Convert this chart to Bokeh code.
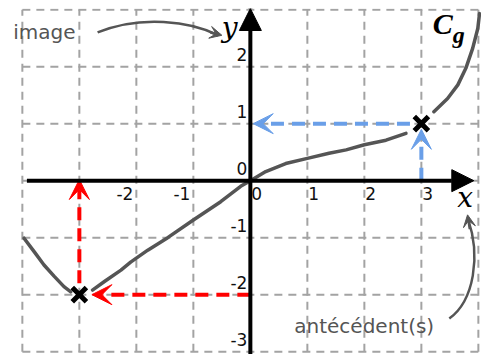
from bokeh.plotting import figure
from bokeh.models import Range1d, ColumnDataSource, Arrow, NormalHead, VeeHead, Label
from bokeh.core.properties import value
from bokeh.embed import file_html
from bokeh.resources import INLINE

# ---- data ----
grid_x = [-4, -3, -2, -1, 0, 1, 2, 3, 4]
grid_y = [-3, -2, -1, 0, 1, 2, 3]

xtick_neg = [-2, -1]
xtick_neg_labels = ["-2", "-1"]
xtick_pos = [0, 1, 2, 3]
xtick_pos_labels = ["0", "1", "2", "3"]
ytick = [2, 1, 0, -1, -2, -3]
ytick_labels = ["2", "1", "0", "-1", "-2", "-3"]

# curve C_g, split into pieces around the two marked points
curve_left_x = [-3.97, -3.79, -3.62, -3.44, -3.27, -3.15]
curve_left_y = [-1.01, -1.25, -1.48, -1.68, -1.86, -1.95]
curve_mid_x = [-2.77, -2.56, -2.27, -2.10, -1.80, -1.45, -1.00, -0.52, -0.17, 0.0,
               0.27, 0.62, 1.00, 1.38, 1.68, 2.00, 2.38, 2.73]
curve_mid_y = [-1.92, -1.77, -1.57, -1.43, -1.22, -1.00, -0.69, -0.37, -0.10, 0.0,
               0.16, 0.30, 0.39, 0.48, 0.54, 0.63, 0.71, 0.83]
curve_right_x = [3.22, 3.46, 3.64, 3.78, 3.90, 3.99, 4.02]
curve_right_y = [1.21, 1.44, 1.68, 1.97, 2.32, 2.67, 2.93]

# marked points: antecedent of -2, and image of 3
pt_x = [-3, 3]
pt_y = [-2, 1]

GRAY = "#555555"
RED = "#ff0000"
BLUE = "#6a9fe8"

p = figure(width=481, height=354,
           x_range=Range1d(-4.243, 4.055), y_range=Range1d(-3.05, 3.02),
           x_axis_type=None, y_axis_type=None,
           output_backend="svg", toolbar_location=None,
           min_border_left=8, min_border_top=8, min_border_right=0, min_border_bottom=0,
           outline_line_color=None)
p.grid.visible = False

# dashed grid
vsrc = ColumnDataSource(dict(x=grid_x, y0=[grid_y[0]] * len(grid_x), y1=[grid_y[-1]] * len(grid_x)))
hsrc = ColumnDataSource(dict(y=grid_y, x0=[grid_x[0]] * len(grid_y), x1=[grid_x[-1]] * len(grid_y)))
p.segment(x0="x", y0="y0", x1="x", y1="y1", source=vsrc, line_color="#a3a3a3",
          line_width=2, line_dash="8 6")
p.segment(x0="x0", y0="y", x1="x1", y1="y", source=hsrc, line_color="#a3a3a3",
          line_width=2, line_dash="8 6")

# curve
p.multi_line(xs=[curve_left_x, curve_mid_x, curve_right_x],
             ys=[curve_left_y, curve_mid_y, curve_right_y],
             line_color=GRAY, line_width=3.5, line_cap="round", line_join="round")

# red arrows (antecedent reading)
ax, ay = pt_x[0], pt_y[0]
p.add_layout(Arrow(end=VeeHead(size=20, fill_color=RED, line_color=RED, line_width=1),
                   x_start=0, y_start=ay, x_end=ax + 0.22, y_end=ay,
                   line_color=RED, line_width=4, line_dash="13 8"))
p.add_layout(Arrow(end=VeeHead(size=20, fill_color=RED, line_color=RED, line_width=1),
                   x_start=ax, y_start=ay + 0.2, x_end=ax, y_end=0.02,
                   line_color=RED, line_width=4, line_dash="13 8"))

# blue arrows (image reading)
bx, by = pt_x[1], pt_y[1]
p.add_layout(Arrow(end=VeeHead(size=20, fill_color=BLUE, line_color=BLUE, line_width=1),
                   x_start=bx, y_start=0, x_end=bx, y_end=by - 0.1,
                   line_color=BLUE, line_width=4, line_dash="13 8"))
p.add_layout(Arrow(end=VeeHead(size=20, fill_color=BLUE, line_color=BLUE, line_width=1),
                   x_start=bx - 0.2, y_start=by, x_end=0.05, y_end=by,
                   line_color=BLUE, line_width=4, line_dash="13 8"))

# axes
p.add_layout(Arrow(end=NormalHead(size=22, fill_color="black", line_color="black"),
                   x_start=-3.92, y_start=0, x_end=3.92, y_end=0,
                   line_color="black", line_width=4))
p.add_layout(Arrow(end=NormalHead(size=22, fill_color="black", line_color="black"),
                   x_start=0, y_start=-3.05, x_end=0, y_end=3.02,
                   line_color="black", line_width=4))

# marked points
p.scatter(x=pt_x, y=pt_y, marker="x", size=20, line_color="black", line_width=5)

# tick labels
font = value("DejaVu Sans")
p.text(x=xtick_neg, y=[0] * len(xtick_neg), text=xtick_neg_labels, text_font=font,
       text_font_size="17px", text_color="#111111", text_align="right",
       text_baseline="middle", x_offset=-3, y_offset=13)
p.text(x=xtick_pos, y=[0] * len(xtick_pos), text=xtick_pos_labels, text_font=font,
       text_font_size="17px", text_color="#111111", text_align="left",
       text_baseline="middle", x_offset=1, y_offset=13)
p.text(x=[0] * len(ytick), y=ytick, text=ytick_labels, text_font=font,
       text_font_size="17px", text_color="#111111", text_align="right",
       text_baseline="middle", x_offset=-3, y_offset=-12)

# axis names and curve name
serif = "Liberation Serif"
p.add_layout(Label(x=-0.50, y=2.69, text="y", text_font="DejaVu Serif", text_font_style="italic",
                   text_font_size="28px", text_color="black", text_baseline="alphabetic"))
p.add_layout(Label(x=3.63, y=-0.30, text="x", text_font="DejaVu Serif", text_font_style="italic",
                   text_font_size="28px", text_color="black", text_baseline="alphabetic"))
p.add_layout(Label(x=3.2, y=2.76, text="C", text_font=serif, text_font_style="bold italic",
                   text_font_size="30px", text_color="black", text_baseline="alphabetic"))
p.add_layout(Label(x=3.55, y=2.56, text="g", text_font=serif, text_font_style="bold italic",
                   text_font_size="24px", text_color="black", text_baseline="alphabetic"))

# annotations
p.add_layout(Label(x=-4.16, y=2.61, text="image", text_font="DejaVu Sans",
                   text_font_size="20px", text_color=GRAY, text_baseline="alphabetic"))
p.add_layout(Label(x=0.77, y=-2.55, text="antécédent(s)", text_font="DejaVu Sans",
                   text_font_size="20px", text_color=GRAY, text_baseline="alphabetic"))

p.bezier(x0=[-2.68], y0=[2.60], x1=[-0.56], y1=[2.55],
         cx0=[-1.93], cy0=[2.91], cx1=[-1.05], cy1=[2.80],
         line_color=GRAY, line_width=2.5)
p.add_layout(Arrow(end=VeeHead(size=12, fill_color=GRAY, line_color=GRAY, line_width=1),
                   x_start=-0.7, y_start=2.6, x_end=-0.5, y_end=2.55,
                   line_color=GRAY, line_width=2.5))

p.bezier(x0=[3.49], y0=[-2.42], x1=[3.82], y1=[-0.68],
         cx0=[3.93], cy0=[-2.10], cx1=[4.04], cy1=[-1.31],
         line_color=GRAY, line_width=2.5)
p.add_layout(Arrow(end=VeeHead(size=12, fill_color=GRAY, line_color=GRAY, line_width=1),
                   x_start=3.85, y_start=-0.85, x_end=3.81, y_end=-0.6,
                   line_color=GRAY, line_width=2.5))

open("out.html", "w").write(file_html(p, INLINE))
